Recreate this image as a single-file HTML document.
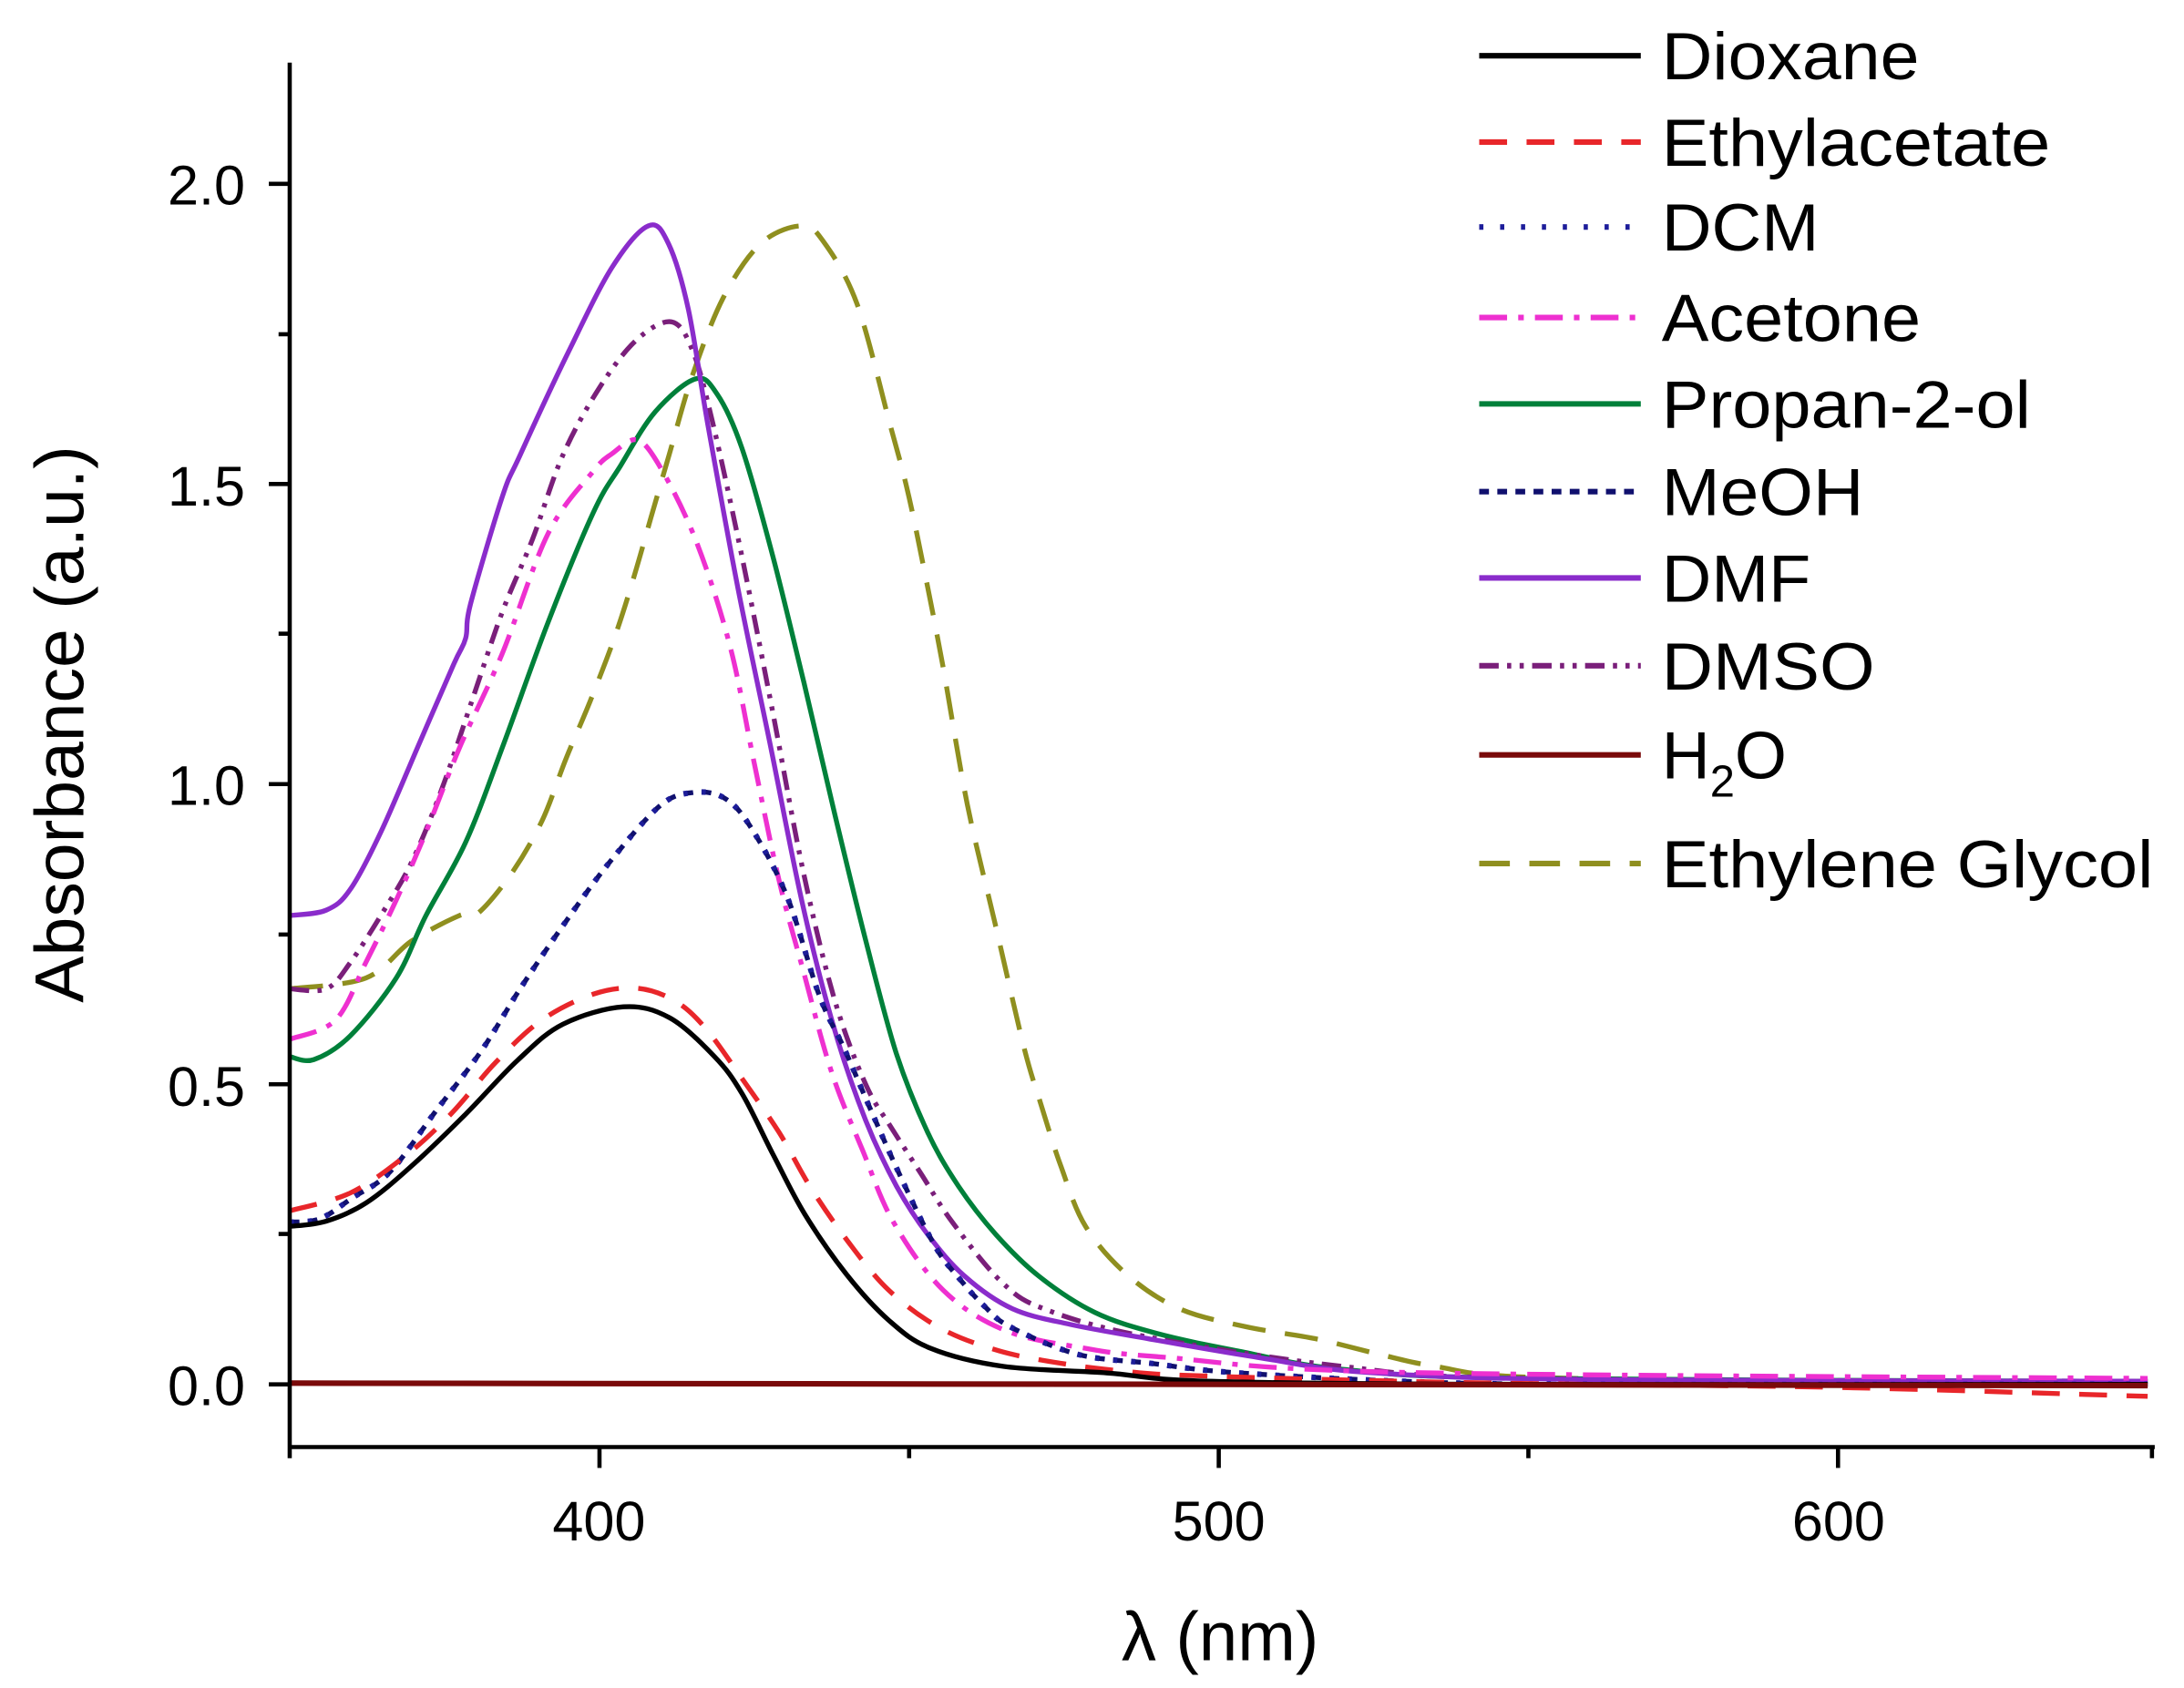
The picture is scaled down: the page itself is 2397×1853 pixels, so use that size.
<!DOCTYPE html>
<html><head><meta charset="utf-8"><style>
html,body{margin:0;padding:0;background:#fff;}
svg{display:block;}
text{font-family:"Liberation Sans",Arial,sans-serif;fill:#000;}
</style></head><body>
<svg id="s" width="2397" height="1853" viewBox="0 0 1568 1212" preserveAspectRatio="none" xmlns="http://www.w3.org/2000/svg">
<g id="curves" fill="none" stroke-linejoin="round"></g>
<g stroke="#000" stroke-width="3" fill="none">
<line x1="208" y1="45" x2="208" y2="1039"/>
<line x1="207" y1="1039" x2="1547" y2="1039"/>
<line x1="430.4" y1="1039" x2="430.4" y2="1054"/>
<line x1="875" y1="1039" x2="875" y2="1054"/>
<line x1="1319.6" y1="1039" x2="1319.6" y2="1054"/>
<line x1="208" y1="1039" x2="208" y2="1047"/>
<line x1="652.7" y1="1039" x2="652.7" y2="1047"/>
<line x1="1097.3" y1="1039" x2="1097.3" y2="1047"/>
<line x1="1545" y1="1039" x2="1545" y2="1047"/>
<line x1="193" y1="994" x2="208" y2="994"/>
<line x1="193" y1="778.5" x2="208" y2="778.5"/>
<line x1="193" y1="563" x2="208" y2="563"/>
<line x1="193" y1="347.5" x2="208" y2="347.5"/>
<line x1="193" y1="132" x2="208" y2="132"/>
<line x1="200" y1="886" x2="208" y2="886"/>
<line x1="200" y1="671" x2="208" y2="671"/>
<line x1="200" y1="455" x2="208" y2="455"/>
<line x1="200" y1="240" x2="208" y2="240"/>
</g>
<g font-size="40" text-anchor="end">
<text x="176" y="1009">0.0</text>
<text x="176" y="794">0.5</text>
<text x="176" y="578">1.0</text>
<text x="176" y="363">1.5</text>
<text x="176" y="147">2.0</text>
</g>
<g font-size="40" text-anchor="middle">
<text x="430" y="1106">400</text>
<text x="875" y="1106">500</text>
<text x="1320" y="1106">600</text>
</g>
<text x="876" y="1192" font-size="50" text-anchor="middle">λ (nm)</text>
<text transform="translate(60,520) rotate(-90)" font-size="50" text-anchor="middle" textLength="400" lengthAdjust="spacingAndGlyphs">Absorbance (a.u.)</text>
<g id="legend"></g>
</svg>
<script>
var X=function(l){return 208+(l-350)*4.4464;};
var Y=function(a){return 994-431*a;};
var dcm=[[350,.27],[354.9,.276],[360,.31],[366.2,.354],[373.5,.454],[380.9,.555],[387.2,.659],[394.1,.764],[401.5,.868],[409.8,.964],[415.2,.986],[421,.977],[425.9,.929],[431.8,.813],[437,.648],[441,.56],[445,.465],[450,.349],[455.6,.232],[459.4,.179],[463.6,.131],[467.8,.096],[478.8,.05],[490.6,.035],[503.3,.02],[530,.005],[560,0],[650,0]];
var S=[
{c:"#8f8f1f",d:"24 14",w:3.5,sh:2,pk:432.5,p:[[350,.659],[362.3,.677],[369.6,.738],[377.4,.781],[380.4,.785],[385.8,.851],[390.7,.938],[394.6,1.042],[398.5,1.138],[402.4,1.243],[405.4,1.339],[408.3,1.443],[411.3,1.55],[415,1.68],[420,1.81],[426,1.9],[432.5,1.93],[437,1.905],[443.6,1.8],[448.9,1.6],[451.5,1.5],[454,1.38],[457.4,1.2],[461.4,.967],[466,.763],[470.6,.56],[473.5,.46],[476.5,.364],[480.5,.263],[487.3,.182],[495.7,.126],[505.8,.096],[516,.076],[526,.05],[535,.03],[550,.012],[600,.005],[650,.005]]},
{c:"#00803a",d:"",w:3.5,sh:0,pk:415.5,p:[[350,.546],[353.9,.541],[359.8,.581],[367.2,.677],[372,.781],[378.4,.903],[384.3,1.06],[391.7,1.269],[399,1.452],[403.4,1.53],[409,1.62],[415.5,1.675],[419,1.65],[423,1.56],[428,1.38],[433,1.17],[438,.95],[443,.74],[448,.55],[453,.42],[458,.33],[464,.25],[471,.18],[480,.12],[490,.085],[503,.056],[520,.025],[550,.01],[650,.005]]},
{c:"#7a1f7a",d:"14 6 3 6 3 6",w:3.5,sh:2,pk:411.7,p:[[350,.659],[355.9,.659],[359.8,.703],[364.7,.781],[369.6,.868],[374.5,.99],[379.4,1.138],[384.3,1.286],[389.2,1.408],[394.1,1.548],[400,1.66],[406,1.74],[411.7,1.77],[416,1.72],[420,1.6],[425,1.38],[430,1.12],[435,.85],[440,.64],[445,.5],[449,.43],[454,.35],[459,.27],[467,.17],[474,.125],[490,.08],[520,.03],[550,.01],[650,.005]]},
{c:"#8a2ccb",d:"",w:3.5,sh:2,pk:407.9,p:[[350,.781],[355.9,.79],[359.8,.825],[364.7,.92],[370.6,1.06],[376.5,1.2],[378.4,1.243],[379.2,1.3],[384.3,1.478],[387.2,1.548],[395,1.72],[402,1.86],[407.9,1.93],[412,1.9],[416,1.79],[419.5,1.6],[424.3,1.33],[429.5,1.07],[434.8,.8],[440,.59],[445,.44],[450,.33],[455,.25],[461,.18],[468.7,.126],[478,.1],[490.6,.076],[507.5,.045],[524,.02],[560,.008],[650,.005]]},
{c:"#ee30d0",d:"20 8 4 8",w:3.5,sh:1.5,pk:406.2,p:[[350,.575],[357.4,.607],[362.3,.703],[367.2,.807],[372,.92],[377.4,1.06],[384.3,1.217],[391.7,1.417],[399,1.521],[402,1.55],[406.2,1.573],[411,1.52],[417.3,1.4],[422.6,1.23],[426.5,1.035],[430.5,.84],[434.4,.69],[439,.52],[444,.39],[449,.27],[457,.157],[467,.09],[480,.06],[493,.045],[530,.02],[650,.01]]},
{c:"#10106e",d:"7 6",w:3.5,sh:1.5,pk:415.2,p:dcm},
{c:"#1d1d9a",d:"3 10",w:4,sh:1.5,pk:415.2,p:dcm},
{c:"#e8262a",d:"20 14",w:3.5,sh:0,pk:0,p:[[350,.289],[359.8,.319],[368.6,.38],[376,.45],[383.3,.537],[390.7,.607],[399,.65],[406,.66],[412,.64],[417,.595],[423,.51],[429,.42],[434,.33],[440,.24],[446.7,.157],[455,.094],[464.5,.056],[474.6,.035],[484.7,.022],[494.8,.015],[530,.005],[560,0],[600,-.005],[650,-.02]]},
{c:"#000000",d:"",w:3.5,sh:0,pk:0,p:[[350,.263],[355.9,.272],[362.3,.302],[369.6,.363],[378.4,.45],[386.8,.54],[394.1,.6],[403.9,.629],[411.3,.611],[418.6,.546],[423,.485],[428,.384],[433.2,.283],[440,.182],[446.7,.107],[453.5,.06],[465.3,.03],[482,.019],[499,.005],[550,0],[650,0]]},
{c:"#7a0a0a",d:"",w:4,sh:0,pk:0,p:[[350,.002],[650,-.002]]}
];
function path(p){
 var pts=p.map(function(q){return [X(q[0]),Y(q[1])];});
 var d="M"+pts[0][0].toFixed(1)+","+pts[0][1].toFixed(1);
 for(var i=0;i<pts.length-1;i++){
  var p0=pts[Math.max(0,i-1)],p1=pts[i],p2=pts[i+1],p3=pts[Math.min(pts.length-1,i+2)];
  var c1=[p1[0]+(p2[0]-p0[0])/6,p1[1]+(p2[1]-p0[1])/6];
  var c2=[p2[0]-(p3[0]-p1[0])/6,p2[1]-(p3[1]-p1[1])/6];
  d+=" C"+c1[0].toFixed(1)+","+c1[1].toFixed(1)+" "+c2[0].toFixed(1)+","+c2[1].toFixed(1)+" "+p2[0].toFixed(1)+","+p2[1].toFixed(1);
 }
 return d;
}
var ns="http://www.w3.org/2000/svg",g=document.getElementById("curves");
S.forEach(function(s){
 var pp=s.p.map(function(q){
  var l=q[0];
  if(s.sh&&l>s.pk&&l<520){
   var f=Math.min(1,(l-s.pk)/10);
   if(l>500)f*= (520-l)/20;
   l-=s.sh*f;
  }
  return [l,q[1]];
 });
 var e=document.createElementNS(ns,"path");
 e.setAttribute("d",path(pp));e.setAttribute("stroke",s.c);e.setAttribute("stroke-width",s.w);
 if(s.d)e.setAttribute("stroke-dasharray",s.d);
 g.appendChild(e);
});
var L=[["Dioxane","#000","",40,185],["Ethylacetate","#e8262a","20 14",102,279],["DCM","#1d1d9a","3 12",163,113],["Acetone","#ee30d0","20 8 4 8",228,186],["Propan-2-ol","#00803a","",290,265],["MeOH","#10106e","7 6",353,145],["DMF","#8a2ccb","",415,107],["DMSO","#7a1f7a","14 6 3 6 3 6",478,153],["H2O","#7a0a0a","",542,0],["Ethylene Glycol","#8f8f1f","22 14",620,353]];
var lg=document.getElementById("legend");
L.forEach(function(r){
 var l=document.createElementNS(ns,"line");
 l.setAttribute("x1",1062);l.setAttribute("x2",1178);l.setAttribute("y1",r[3]);l.setAttribute("y2",r[3]);
 l.setAttribute("stroke",r[1]);l.setAttribute("stroke-width",4);if(r[2])l.setAttribute("stroke-dasharray",r[2]);
 lg.appendChild(l);
 var t=document.createElementNS(ns,"text");
 t.setAttribute("x",1193);t.setAttribute("y",r[3]+17);t.setAttribute("font-size","48");
 if(r[0]=="H2O"){t.innerHTML='H<tspan font-size="32" dy="13">2</tspan><tspan dy="-13">O</tspan>';}
 else{t.textContent=r[0];t.setAttribute("textLength",r[4]);t.setAttribute("lengthAdjust","spacingAndGlyphs");}
 lg.appendChild(t);
});
</script>
</body></html>
